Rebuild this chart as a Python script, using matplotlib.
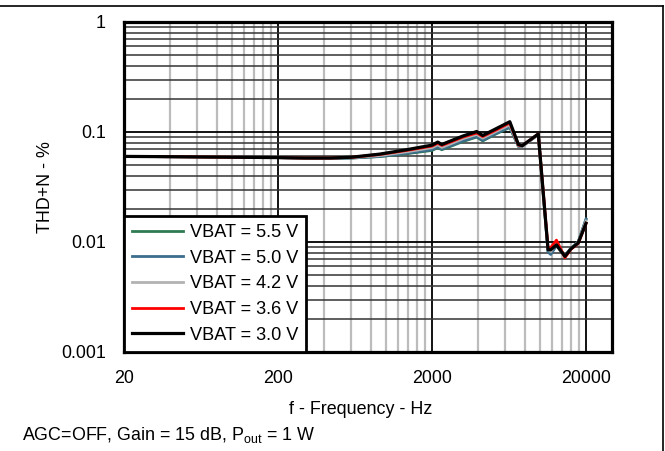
import matplotlib
matplotlib.use("Agg")
import matplotlib.pyplot as plt
from matplotlib.lines import Line2D
from matplotlib.ticker import FixedLocator, FixedFormatter, LogLocator, NullFormatter

plt.rcParams["font.family"] = ["Liberation Sans", "DejaVu Sans"]
plt.rcParams["mathtext.fontset"] = "custom"
plt.rcParams["mathtext.rm"] = "Liberation Sans"
plt.rcParams["mathtext.default"] = "regular"

# Frequency points (Hz)
freq = [20, 50, 100, 200, 300, 436, 600, 918, 1368, 2000, 2180, 2315, 2700, 3180,
        3900, 4270, 5200, 6400, 7280, 7700, 9800, 11340, 11800, 12860, 14600,
        16000, 17800, 20000]

# THD+N (%) for each supply voltage
thd_55 = [0.060, 0.0595, 0.059, 0.0585, 0.058, 0.0575, 0.058, 0.0598, 0.0635, 0.068,
          0.072, 0.069, 0.075, 0.082, 0.090, 0.083, 0.096, 0.110, 0.074, 0.074, 0.095,
          0.0082, 0.0079, 0.0093, 0.0075, 0.0088, 0.0100, 0.0160]
thd_50 = [0.060, 0.0595, 0.059, 0.0585, 0.058, 0.0575, 0.058, 0.060, 0.064, 0.069,
          0.073, 0.070, 0.076, 0.083, 0.091, 0.084, 0.097, 0.111, 0.074, 0.074, 0.095,
          0.0081, 0.0077, 0.0093, 0.0075, 0.0088, 0.0100, 0.0162]
thd_42 = [0.060, 0.0595, 0.059, 0.0585, 0.058, 0.0578, 0.0585, 0.061, 0.066, 0.072,
          0.0765, 0.0725, 0.079, 0.087, 0.095, 0.088, 0.101, 0.116, 0.075, 0.074, 0.095,
          0.0085, 0.0082, 0.0097, 0.0074, 0.0087, 0.0099, 0.0155]
thd_36 = [0.060, 0.0595, 0.059, 0.0585, 0.058, 0.058, 0.0588, 0.0625, 0.068, 0.0745,
          0.079, 0.0755, 0.082, 0.090, 0.098, 0.091, 0.104, 0.121, 0.076, 0.075, 0.096,
          0.0088, 0.0089, 0.0104, 0.0072, 0.0086, 0.0097, 0.0147]
thd_30 = [0.060, 0.0595, 0.059, 0.0585, 0.058, 0.058, 0.059, 0.063, 0.069, 0.076,
          0.081, 0.077, 0.084, 0.092, 0.101, 0.093, 0.107, 0.124, 0.077, 0.075, 0.096,
          0.0085, 0.0085, 0.0094, 0.0074, 0.0087, 0.0098, 0.0148]

labels = ["VBAT = 5.5 V", "VBAT = 5.0 V", "VBAT = 4.2 V", "VBAT = 3.6 V", "VBAT = 3.0 V"]
colors = ["#2e7a52", "#3b6d8c", "#b2b2b2", "#ff0000", "#000000"]
series = [thd_55, thd_50, thd_42, thd_36, thd_30]

x_major = [20, 200, 2000, 20000]
x_major_labels = ["20", "200", "2000", "20000"]
y_major = [0.001, 0.01, 0.1, 1]
y_major_labels = ["0.001", "0.01", "0.1", "1"]

W, H = 665, 451
fig = plt.figure(figsize=(W / 100, H / 100), dpi=100)
ax = fig.add_axes([124 / W, 1 - 352 / H, (612 - 124) / W, (352 - 22) / H])

ax.set_xscale("log")
ax.set_yscale("log")
ax.set_xlim(20, 29500)
ax.set_ylim(0.001, 1)

# ticks / grid
ax.xaxis.set_major_locator(FixedLocator(x_major))
ax.xaxis.set_major_formatter(FixedFormatter(x_major_labels))
x_minor = [m * d for d in (20, 200, 2000) for m in range(2, 10)]
ax.xaxis.set_minor_locator(FixedLocator(x_minor))
ax.xaxis.set_minor_formatter(NullFormatter())
ax.yaxis.set_major_locator(FixedLocator(y_major))
ax.yaxis.set_major_formatter(FixedFormatter(y_major_labels))
ax.yaxis.set_minor_locator(LogLocator(base=10, subs=range(2, 10)))
ax.yaxis.set_minor_formatter(NullFormatter())

ax.tick_params(which="both", length=0, labelsize=12.9, colors="black", pad=13)
ax.grid(which="minor", axis="x", color="#bcbcbc", linewidth=1.6)
ax.grid(which="minor", axis="y", color="#333333", linewidth=1.1)
ax.grid(which="major", axis="both", color="black", linewidth=1.3)
ax.set_axisbelow(True)
for sp in ax.spines.values():
    sp.set_linewidth(2.3)
    sp.set_color("black")

for vals, col, lab in zip(series, colors, labels):
    lw = 2.3 if col == "#000000" else 2.0
    ax.plot(freq, vals, color=col, linewidth=lw, label=lab, zorder=3)

leg = ax.legend(loc="lower left", bbox_to_anchor=(0, 0), borderaxespad=0,
                fontsize=13.1, handlelength=2.8, handletextpad=0.35,
                labelspacing=0.48, borderpad=0.45, fancybox=False,
                framealpha=1, edgecolor="black")
leg.get_frame().set_linewidth(2.0)
leg.set_zorder(5)

fig.text(45 / W, 1 - 187 / H, "THD+N - %", rotation=90, ha="center", va="center",
         fontsize=12.9)
fig.text(361 / W, 1 - 409 / H, "f - Frequency - Hz", ha="center", va="center",
         fontsize=12.9)
fig.text(22 / W, 1 - 435 / H, "AGC=OFF, Gain = 15 dB, P$_{out}$ = 1 W",
         ha="left", va="center", fontsize=12.9)

# outer frame (top and right edges visible)
fig.add_artist(Line2D([0, 663 / W], [1 - 6 / H, 1 - 6 / H], color="black", linewidth=1.2,
                      transform=fig.transFigure))
fig.add_artist(Line2D([663 / W, 663 / W], [0, 1 - 6 / H], color="black", linewidth=1.2,
                      transform=fig.transFigure))

fig.savefig("out.png", dpi=100)
